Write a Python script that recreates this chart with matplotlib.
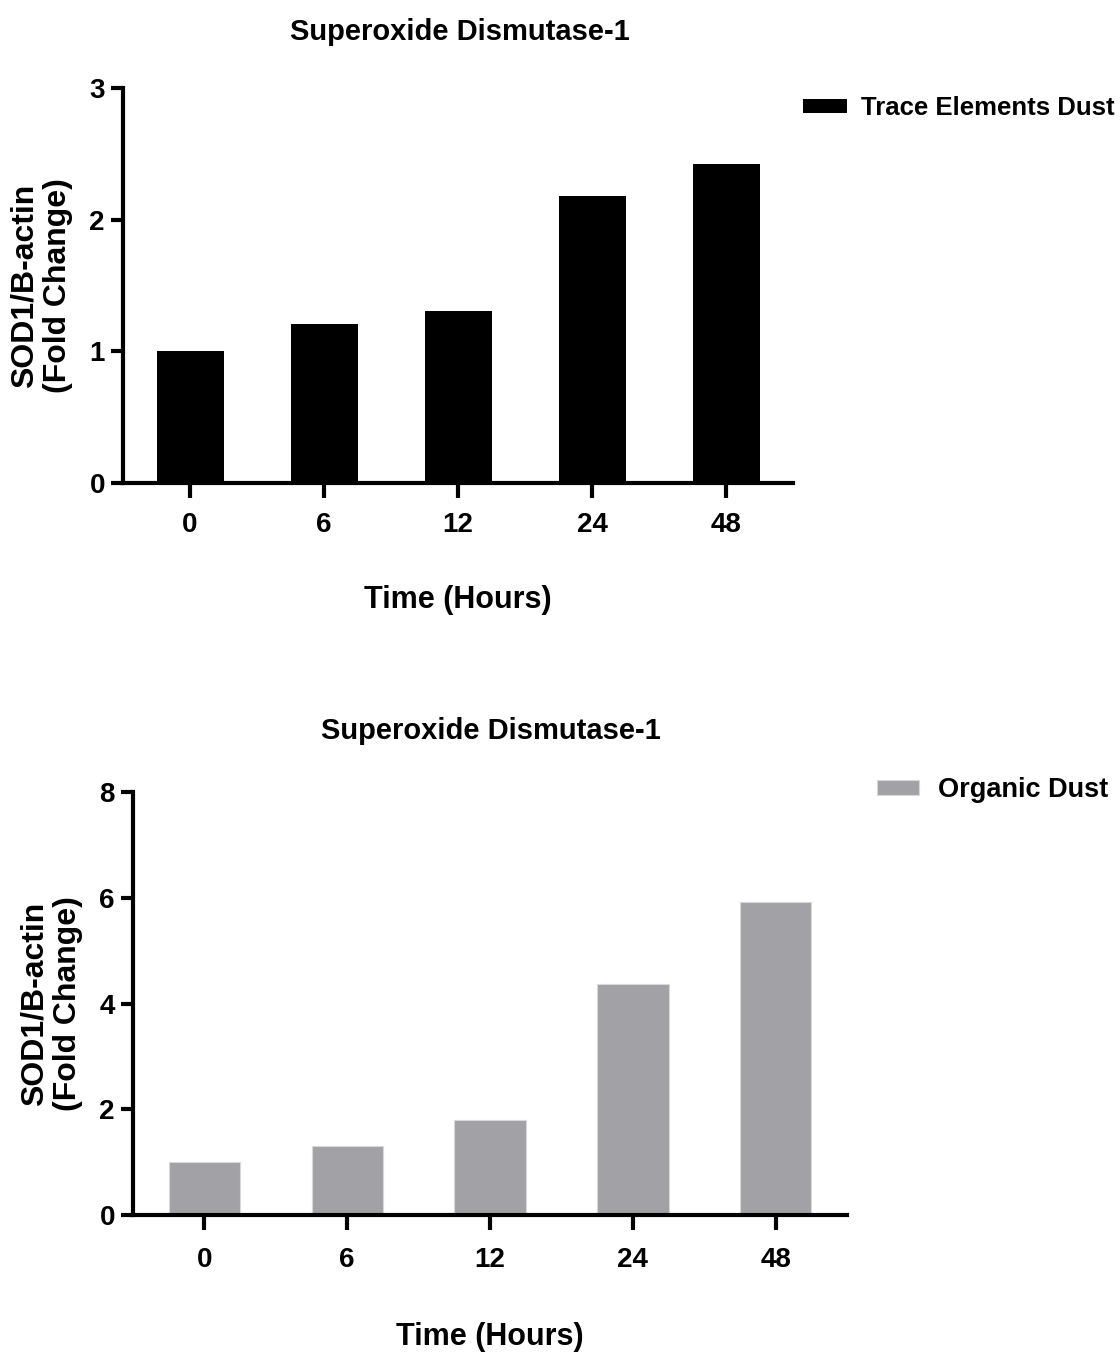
import matplotlib
matplotlib.use("Agg")
import matplotlib.pyplot as plt
import numpy as np

plt.rcParams['font.family'] = ['Liberation Sans', 'DejaVu Sans']
plt.rcParams['font.weight'] = 'bold'

time_labels = ["0", "6", "12", "24", "48"]
trace_values = [1.00, 1.21, 1.31, 2.18, 2.42]
organic_values = [1.00, 1.30, 1.80, 4.36, 5.92]
title_text = "Superoxide Dismutase-1"
ylabel_text = "SOD1/B-actin\n(Fold Change)"
xlabel_text = "Time (Hours)"

W, H = 1120, 1354
fig = plt.figure(figsize=(W / 100, H / 100), dpi=100)


def setup(ax, yticks, ymax, xpad, labelpad):
    for s in ["top", "right"]:
        ax.spines[s].set_visible(False)
    for s in ["left", "bottom"]:
        ax.spines[s].set_linewidth(3)
    ax.set_xlim(-0.5, 4.5)
    ax.set_ylim(0, ymax)
    ax.set_yticks(yticks)
    ax.set_xticks(np.arange(len(time_labels)))
    ax.set_xticklabels(time_labels)
    ax.tick_params(axis='x', length=11, width=3, pad=xpad, labelsize=20)
    ax.tick_params(axis='y', length=9, width=3, pad=4, labelsize=20)
    for lab in ax.get_xticklabels() + ax.get_yticklabels():
        lab.set_fontweight('bold')
    ax.set_xlabel(xlabel_text, fontsize=22, fontweight='bold', labelpad=labelpad)
    ax.set_ylabel(ylabel_text, fontsize=23, fontweight='bold', labelpad=12, linespacing=1.15)


# Top chart
ax1 = fig.add_axes([123 / W, 1 - 483 / H, (793 - 123) / W, (483 - 88) / H])
x = np.arange(len(time_labels))
ax1.bar(x, trace_values, width=0.5, color='black', label="Trace Elements Dust", zorder=2)
setup(ax1, [0, 1, 2, 3], 3, 10, 34)
fig.text(460 / W, 1 - 32 / H, title_text, ha='center', va='center', fontsize=21, fontweight='bold')
leg1 = ax1.legend(loc='center left', bbox_to_anchor=(803 / W, 1 - 108 / H), bbox_transform=fig.transFigure,
                  frameon=False, fontsize=18.5, handlelength=1.7, handleheight=0.5, handletextpad=0.55,
                  borderpad=0, borderaxespad=0)
for t in leg1.get_texts():
    t.set_fontweight('bold')

# Bottom chart
ax2 = fig.add_axes([133 / W, 1 - 1215 / H, (847 - 133) / W, (1215 - 792) / H])
ax2.bar(x, organic_values, width=0.5, color='#A2A1A6', edgecolor='#d8d8d8', linewidth=0.8,
        label="Organic Dust", zorder=2)
setup(ax2, [0, 2, 4, 6, 8], 8, 12, 35)
fig.text(491 / W, 1 - 731 / H, title_text, ha='center', va='center', fontsize=21, fontweight='bold')
leg2 = ax2.legend(loc='center left', bbox_to_anchor=(877 / W, 1 - 790 / H), bbox_transform=fig.transFigure,
                  frameon=False, fontsize=19.5, handlelength=1.55, handleheight=0.5, handletextpad=0.7,
                  borderpad=0, borderaxespad=0)
for t in leg2.get_texts():
    t.set_fontweight('bold')

fig.savefig("out.png", dpi=100, facecolor='white')
